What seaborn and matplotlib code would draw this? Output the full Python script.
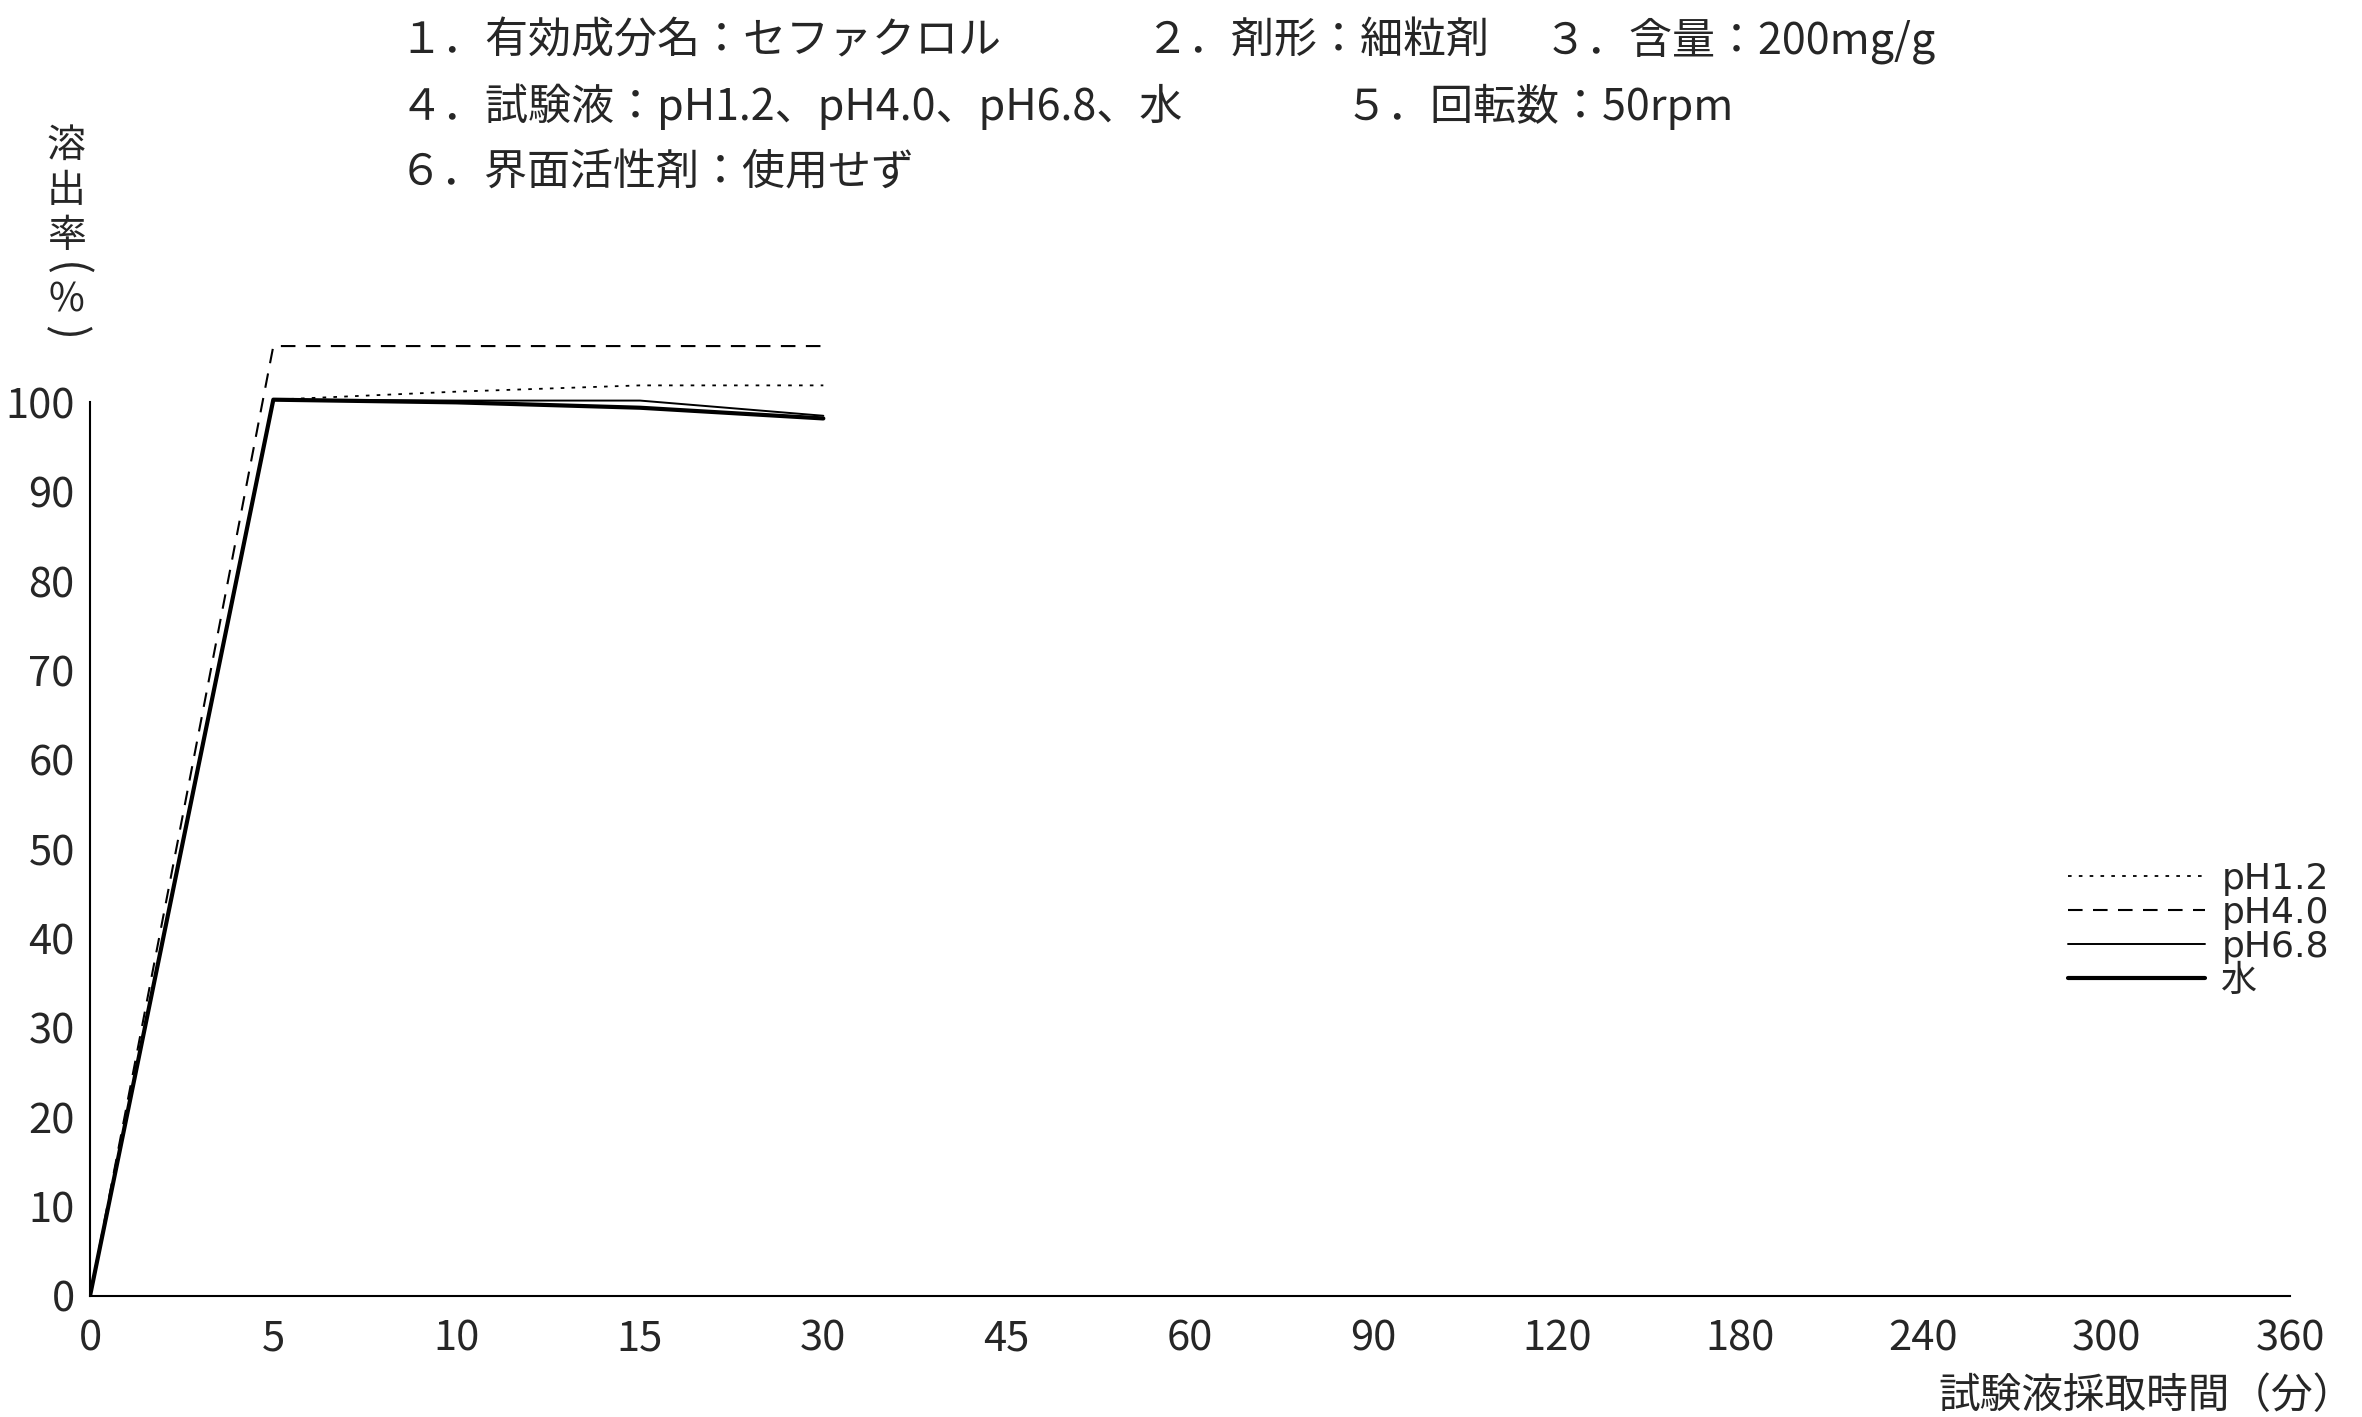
import seaborn as sns
import matplotlib.pyplot as plt
import pandas as pd

# data
time_labels = ["0", "5", "10", "15", "30", "45", "60", "90", "120", "180", "240", "300", "360"]
sample_times = ["0", "5", "10", "15", "30"]
ph12 = [0, 100.3, 101.2, 101.9, 101.9]
ph40 = [0, 106.3, 106.3, 106.3, 106.3]
ph68 = [0, 100.3, 100.2, 100.2, 98.5]
water = [0, 100.3, 100.0, 99.4, 98.2]
series_names = ["pH1.2", "pH4.0", "pH6.8", "水"]
y_ticks = [0, 10, 20, 30, 40, 50, 60, 70, 80, 90, 100]

header_lines = [
    [("１．有効成分名：セファクロル", 399), ("２．剤形：細粒剤", 1145), ("３．含量：200mg/g", 1544)],
    [("４．試験液：pH1.2、pH4.0、pH6.8、水", 399), ("５．回転数：50rpm", 1345)],
    [("６．界面活性剤：使用せず", 399)],
]

pos = [time_labels.index(t) for t in sample_times]
df = pd.DataFrame({
    "pos": pos * 4,
    "rate": ph12 + ph40 + ph68 + water,
    "液": sum([[n] * len(pos) for n in series_names], []),
})

sns.set_style("white")
jp_font = ["Noto Sans CJK JP", "DejaVu Sans"]
plt.rcParams["font.family"] = jp_font

W, H = 2362, 1417
fig = plt.figure(figsize=(W / 100, H / 100), dpi=100)
ax = fig.add_axes([90 / W, (H - 1296) / H, 2200 / W, 983 / H])

styles = {
    "pH1.2": dict(linestyle=(0, (2, 4)), linewidth=1.3),
    "pH4.0": dict(linestyle=(0, (7, 5)), linewidth=1.5),
    "pH6.8": dict(linestyle="-", linewidth=1.4),
    "水": dict(linestyle="-", linewidth=3.0),
}
for name in series_names:
    sns.lineplot(data=df[df["液"] == name], x="pos", y="rate", color="black",
                 label=name, ax=ax, **styles[name])

ax.set_xlim(0, 12)
ax.set_ylim(0, 110)
ax.set_xticks(range(len(time_labels)))
ax.set_xticklabels(time_labels)
ax.set_yticks(y_ticks)
ax.set_xlabel("")
ax.set_ylabel("")

for s in ["top", "right"]:
    ax.spines[s].set_visible(False)
for s in ["left", "bottom"]:
    ax.spines[s].set_linewidth(1.5)
    ax.spines[s].set_color("black")
ax.spines["left"].set_bounds(0, 100)

ax.tick_params(axis="x", direction="in", length=15, width=1.2, pad=16, labelsize=30)
ax.tick_params(axis="y", direction="in", length=16, width=1.2, pad=11, labelsize=30)

leg = ax.legend(loc="upper left", bbox_to_anchor=(2068 / W, 1 - 862 / H),
                bbox_transform=fig.transFigure, frameon=False, borderpad=0,
                borderaxespad=0, handlelength=3.8, handletextpad=0.45,
                labelspacing=0.0, prop={"family": ["DejaVu Sans", "Noto Sans CJK JP"], "size": 26})

# header
for i, line in enumerate(header_lines):
    y = [41, 107, 173][i]
    for txt, x in line:
        fig.text(x / W, 1 - y / H, txt, ha="left", va="center", fontsize=31)

# y label (vertical)
for ch, y, rot, fs in zip(["溶", "出", "率", "(", "%", ")"],
                          [146, 191, 236, 270, 301, 333],
                          [0, 0, 0, 270, 0, 270],
                          [28, 28, 28, 32, 28, 32]):
    fig.text(66 / W, 1 - y / H, ch, ha="center", va="center",
             fontsize=fs, rotation=rot, rotation_mode="anchor")

# x label
fig.text(2355 / W, 1 - 1396 / H, "試験液採取時間（分）", ha="right", va="center",
         fontsize=30)

fig.savefig("out.png", dpi=100)
plt.close()
